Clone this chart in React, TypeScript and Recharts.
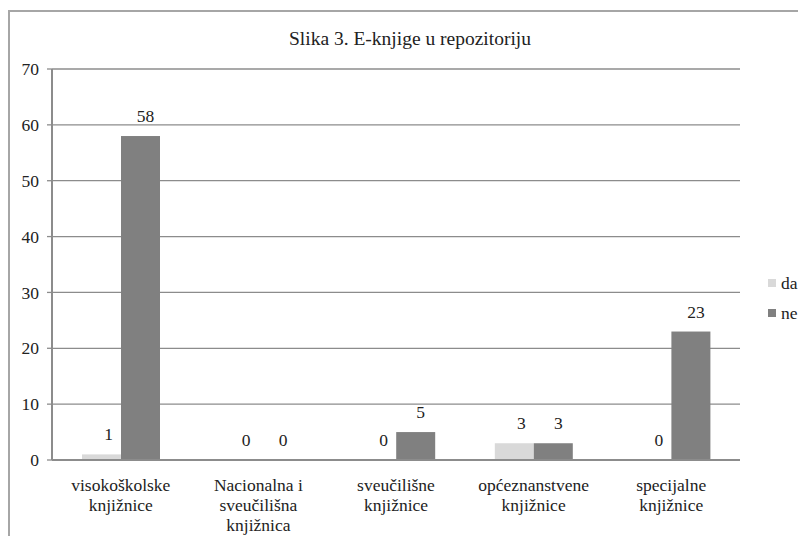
import { BarChart, Bar, XAxis, YAxis, CartesianGrid } from "recharts";

// categories (tick labels, split into lines as in the original)
const categories = [
    "visokoškolske knjižnice",
    "Nacionalna i sveučilišna knjižnica",
    "sveučilišne knjižnice",
    "općeznanstvene knjižnice",
    "specijalne knjižnice",
];
const categoryLines = [
    ["visokoškolske", "knjižnice"],
    ["Nacionalna i", "sveučilišna", "knjižnica"],
    ["sveučilišne", "knjižnice"],
    ["općeznanstvene", "knjižnice"],
    ["specijalne", "knjižnice"],
];
const daValues = [1, 0, 0, 3, 0];
const neValues = [58, 0, 5, 3, 23];
const yTicks = [0, 10, 20, 30, 40, 50, 60, 70];

const FONT = "Liberation Serif";
const GRID = "#8c8c8c";

const data = categories.map((name, i) => ({
    name,
    da: daValues[i],
    ne: neValues[i],
}));

function CategoryTick({ x, y, payload, index }: any) {
    const lines = categoryLines[index] ?? [payload.value];
    return (
        <text x={x} y={y} textAnchor="middle" fontFamily={FONT} fontSize={17.5} fill="#222">
            {lines.map((l: string, i: number) => (
                <tspan key={i} x={x} dy={i === 0 ? "0.75em" : 20}>
                    {l}
                </tspan>
            ))}
        </text>
    );
}

// bar with its value label on top (zero-height bars still get their "0")
function makeBarShape(key: "da" | "ne", dx: number) {
    return function BarShape(p: any) {
        const { x, y, width, height, fill } = p;
        const value = p.payload?.[key] ?? p.value;
        const top = Math.min(y, y + height);
        return (
            <g>
                {Math.abs(height) > 0 && <rect x={x} y={top} width={width} height={Math.abs(height)} fill={fill} />}
                <text x={x + width / 2 + dx} y={top - 14} textAnchor="middle" fontFamily={FONT} fontSize={17.5} fill="#222">
                    {value}
                </text>
            </g>
        );
    };
}

const legendItems = [
    { label: "da", color: "#d9d9d9" },
    { label: "ne", color: "#808080" },
];

export default function App() {
    return (
        <div style={{ paddingTop: 2, fontFamily: FONT }}>
            <div
                style={{
                    width: 796,
                    height: 524,
                    borderLeft: "2px solid #a6a6a6",
                    borderTop: "2px solid #a6a6a6",
                    position: "relative",
                    overflow: "hidden",
                }}
            >
                <BarChart
                    width={796}
                    height={524}
                    data={data}
                    margin={{ top: 57, right: 66, left: 0, bottom: 46 }}
                    barGap={0}
                    barSize={39}
                >
                    <text x={400} y={26} textAnchor="middle" dominantBaseline="central" fontFamily={FONT} fontSize={19.5} fill="#222">
                        Slika 3. E-knjige u repozitoriju
                    </text>
                    <CartesianGrid vertical={false} stroke={GRID} strokeWidth={1.3} />
                    <XAxis
                        dataKey="name"
                        height={30}
                        axisLine={{ stroke: GRID, strokeWidth: 2 }}
                        tickLine={false}
                        tick={<CategoryTick />}
                        tickMargin={12}
                        interval={0}
                    />
                    <YAxis
                        width={42}
                        domain={[0, 70]}
                        ticks={yTicks}
                        axisLine={{ stroke: GRID, strokeWidth: 2 }}
                        tickLine={{ stroke: GRID, strokeWidth: 1.3 }}
                        tickSize={5}
                        tickMargin={8}
                        tick={{ fontSize: 17.5, fill: "#222", fontFamily: FONT }}
                    />
                    <Bar dataKey="da" fill="#d9d9d9" isAnimationActive={false} shape={makeBarShape("da", 7)} />
                    <Bar dataKey="ne" fill="#808080" isAnimationActive={false} shape={makeBarShape("ne", 5)} />
                </BarChart>
                <div style={{ position: "absolute", left: 758, top: 256, fontSize: 17.5, color: "#222" }}>
                    {legendItems.map((it) => (
                        <div key={it.label} style={{ display: "flex", alignItems: "center", height: 30 }}>
                            <span style={{ display: "inline-block", width: 8, height: 8, background: it.color, marginRight: 5 }} />
                            {it.label}
                        </div>
                    ))}
                </div>
            </div>
        </div>
    );
}
